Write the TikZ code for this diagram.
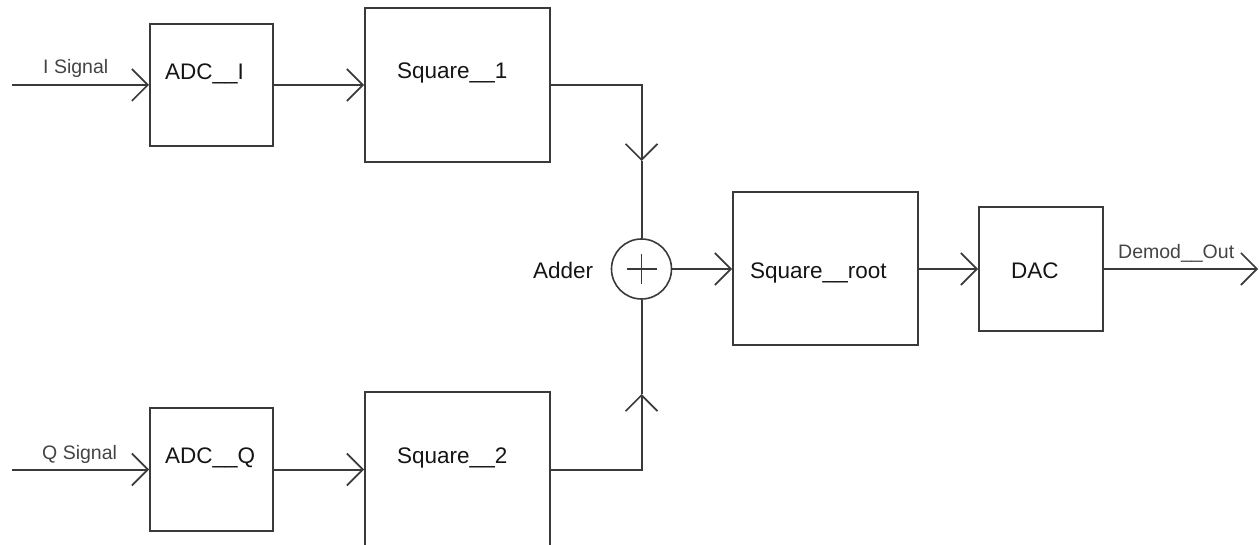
\documentclass[tikz,border=0pt]{standalone}
\usepackage{fontspec}
\setmainfont{Liberation Sans}
\usetikzlibrary{arrows.meta}
\definecolor{ln}{HTML}{3A3A3A}
\definecolor{lbl}{HTML}{151515}
\definecolor{sig}{HTML}{444444}
\tikzset{
  blk/.style={draw=ln,line width=2pt,minimum width=#1,inner sep=0pt},
  lbltxt/.style={anchor=base west,inner sep=0pt,text=lbl,font=\fontsize{22.5}{26}\selectfont},
  sigtxt/.style={anchor=base west,inner sep=0pt,text=sig,font=\fontsize{19.5}{23}\selectfont},
  wire/.style={draw=ln,line width=2pt},
  arr/.style={wire,-{Straight Barb[length=16pt,width=32pt,line width=1.6pt]}}
}
\begin{document}
\begin{tikzpicture}[x=1pt,y=-1pt]
\useasboundingbox (0,0) rectangle (1259,545);
\clip (0,0) rectangle (1259,545);
% blocks
\node[blk=123pt,minimum height=122pt] (adci) at (211.5,85) {};
\node[blk=185pt,minimum height=154pt] (sq1) at (457.5,85) {};
\node[blk=123pt,minimum height=123pt] (adcq) at (211.5,469.5) {};
\node[blk=185pt,minimum height=158pt] (sq2) at (457.5,471) {};
\node[draw=ln,line width=1.6pt,circle,minimum size=60pt,inner sep=0pt] (add) at (641.5,269) {};
\node[blk=185pt,minimum height=153pt] (sqrt) at (825.5,269) {};
\node[blk=124pt,minimum height=124pt] (dac) at (1041,269) {};
% plus sign
\draw[draw=ln,line width=1.5pt] ([xshift=-15pt]add.center) -- ([xshift=15pt]add.center);
\draw[draw=ln,line width=1.5pt] ([yshift=-15pt]add.center) -- ([yshift=15pt]add.center);
% labels
\node[lbltxt] (ladci) at (165,80) {ADC\_\_I};
\node[lbltxt] (lsq1) at (397,79) {Square\_\_1};
\node[lbltxt] (ladcq) at (165,463) {ADC\_\_Q};
\node[lbltxt] (lsq2) at (397,463) {Square\_\_2};
\node[lbltxt] (ladd) at (533,279) {Adder};
\node[lbltxt] (lsqrt) at (750,279) {Square\_\_root};
\node[lbltxt] (ldac) at (1011,279) {DAC};
\node[sigtxt] (lisig) at (43,74) {I Signal};
\node[sigtxt] (lqsig) at (42,459) {Q Signal};
\node[sigtxt] (lout) at (1118,259) {Demod\_\_Out};
% coordinates
\coordinate (iin) at (12,85);
\coordinate (qin) at (12,469.5);
\coordinate (t1) at (641.5,161);
\coordinate (t2) at (641.5,394);
\coordinate (out) at (1258,269);
% connectors
\draw[arr] (iin) -- (adci.west);
\draw[arr] (adci.east) -- (sq1.west);
\draw[arr] (qin) -- (adcq.west);
\draw[arr] (adcq.east) -- (adcq.east -| sq2.west);
\draw[arr] (sq1.east) -| (t1);
\draw[wire] (t1) -- (add.north);
\draw[arr] (adcq.east -| sq2.east) -| (t2);
\draw[wire] (t2) -- (add.south);
\draw[arr] (add.east) -- (sqrt.west);
\draw[arr] (sqrt.east) -- (dac.west);
\draw[arr] (dac.east) -- (out);
\end{tikzpicture}
\end{document}
